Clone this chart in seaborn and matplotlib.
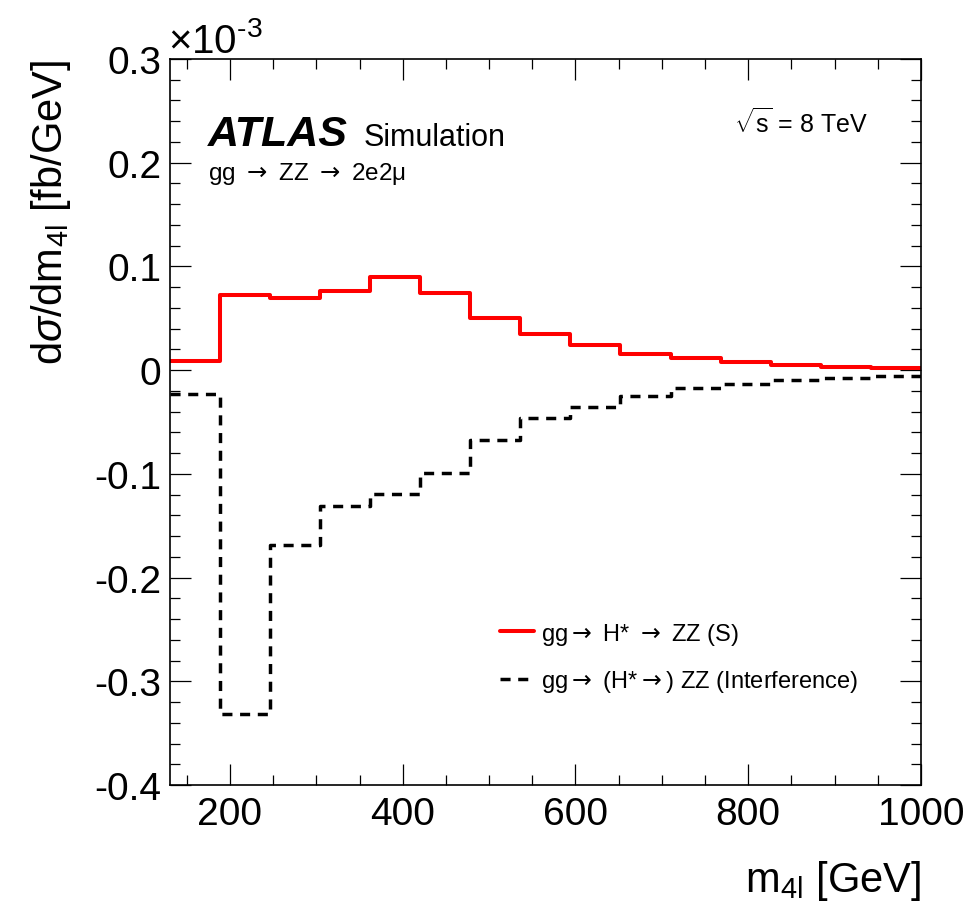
import numpy as np
import pandas as pd
import matplotlib
matplotlib.use("Agg")
import matplotlib.pyplot as plt
from matplotlib.font_manager import FontProperties
from matplotlib.ticker import MultipleLocator, FuncFormatter
import seaborn as sns

# bin edges of m4l [GeV]
bin_edges = [130, 188, 246, 304, 362, 420, 478, 536, 594, 652, 710, 768, 826, 884, 942, 1000]

# dsigma/dm4l in units of 1e-3 fb/GeV
signal = [0.009, 0.072, 0.070, 0.076, 0.090, 0.074, 0.050, 0.035,
          0.024, 0.016, 0.0115, 0.0075, 0.0045, 0.003, 0.0018]
interference = [-0.023, -0.332, -0.169, -0.131, -0.119, -0.099, -0.067, -0.046,
                -0.036, -0.025, -0.0175, -0.013, -0.0095, -0.0075, -0.0052]

label_sig = r"gg$\rightarrow$ H* $\rightarrow$ ZZ (S)"
label_int = r"gg$\rightarrow$ (H*$\rightarrow$) ZZ (Interference)"

sns.set_style("ticks")
plt.rcParams['font.family'] = ['Liberation Sans', 'DejaVu Sans']
plt.rcParams['mathtext.fontset'] = 'custom'
plt.rcParams['mathtext.rm'] = 'Liberation Sans'
plt.rcParams['mathtext.it'] = 'Liberation Sans:italic'
plt.rcParams['axes.unicode_minus'] = False
for k in ['text.color', 'axes.labelcolor', 'xtick.color', 'ytick.color', 'axes.edgecolor']:
    plt.rcParams[k] = 'black'

# step curves: repeat the last value so the last bin is drawn to the edge
df_sig = pd.DataFrame({'m4l': bin_edges, 'xs': signal + [signal[-1]]})
df_int = pd.DataFrame({'m4l': bin_edges, 'xs': interference + [interference[-1]]})

fig = plt.figure(figsize=(9.72, 9.03), dpi=100)
ax = fig.add_axes([169.5 / 972, 1 - 786 / 903, 751.5 / 972, 726 / 903])

sns.lineplot(data=df_sig, x='m4l', y='xs', ax=ax, color='#ff0000', linewidth=2.9,
             drawstyle='steps-post', estimator=None, sort=False, label=label_sig)
sns.lineplot(data=df_int, x='m4l', y='xs', ax=ax, color='black', linewidth=2.5,
             drawstyle='steps-post', estimator=None, sort=False, label=label_int)
ax.lines[1].set_linestyle((0, (2.9, 2.2)))

ax.set_xlim(130, 1000)
ax.set_ylim(-0.4, 0.3)

ax.xaxis.set_major_locator(MultipleLocator(200))
ax.xaxis.set_minor_locator(MultipleLocator(50))
ax.yaxis.set_major_locator(MultipleLocator(0.1))
ax.yaxis.set_minor_locator(MultipleLocator(0.02))
ax.yaxis.set_major_formatter(FuncFormatter(lambda v, p: '0' if abs(v) < 1e-9 else f'{v:.1f}'))

ax.tick_params(which='both', direction='in', top=True, right=True, width=0.9, labelsize=28)
ax.tick_params(which='major', length=15)
ax.tick_params(which='minor', length=7.5)
ax.tick_params(axis='x', pad=8)
ax.tick_params(axis='y', pad=6)
for s in ax.spines.values():
    s.set_linewidth(1.2)

ax.set_xlabel(r'm$_{\mathrm{4l}}$ [GeV]', fontsize=30, loc='right')
ax.xaxis.set_label_coords(1.0, -0.10)
ax.set_ylabel(r'd$\sigma$/dm$_{\mathrm{4l}}$ [fb/GeV]', fontsize=30, loc='top')
ax.yaxis.set_label_coords(-0.128, 1.0)

ax.text(-0.002, 1.0096, r'$\times$10$^{\text{-3}}$', transform=ax.transAxes,
        fontsize=29, ha='left', va='baseline')

ax.text(0.051, 0.8815, 'ATLAS', transform=ax.transAxes, fontsize=31,
        fontweight='bold', fontstyle='italic', ha='left', va='baseline')
ax.text(0.2589, 0.8815, 'Simulation', transform=ax.transAxes, fontsize=22,
        ha='left', va='baseline')
ax.text(0.051, 0.8347, 'gg $\\rightarrow$ ZZ $\\rightarrow$ 2e2\u03bc', transform=ax.transAxes,
        fontsize=17.5, ha='left', va='baseline', math_fontfamily='dejavusans')
ax.text(0.751, 0.8994, r'$\sqrt{\mathrm{s}}$ = 8 TeV', transform=ax.transAxes,
        fontsize=18, ha='left', va='baseline')

leg_font = FontProperties(family=['Liberation Sans', 'DejaVu Sans'], size=17,
                          math_fontfamily='dejavusans')
ax.legend(loc='center left', bbox_to_anchor=(0.44, 0.176), frameon=False,
          prop=leg_font, handlelength=1.45, handletextpad=0.3, labelspacing=0.9,
          borderpad=0, borderaxespad=0)

fig.savefig('out.png', dpi=100)
